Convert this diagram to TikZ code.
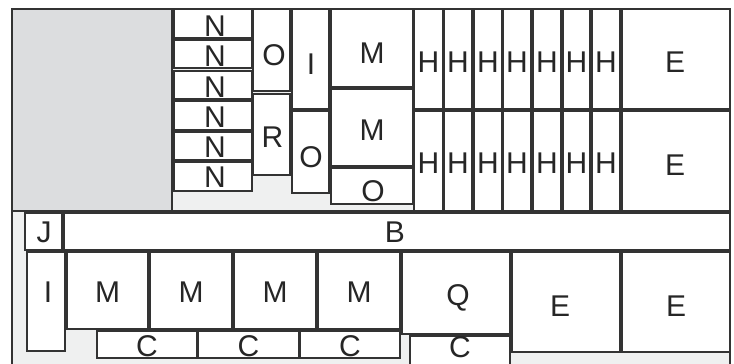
\documentclass[tikz,border=0pt]{standalone}
\usepackage{fontspec}
\setmainfont{Liberation Sans}
\usepackage{tikz}
\usepackage{xcolor}
\definecolor{linegray}{HTML}{333333}
\definecolor{blockgray}{HTML}{DCDDDF}
\definecolor{floorgray}{HTML}{EFF0F0}

\begin{document}
\begin{tikzpicture}[
    x=1pt,y=-1pt,
    room/.style={draw=linegray,line width=1.2pt,fill=white},
    lbl/.style={inner sep=0pt,font=\fontsize{30}{32}\selectfont,text=black!85}
]
\useasboundingbox (0,0) rectangle (734,364);
\clip (0,0) rectangle (734,364);
% frame and grey block
\draw[draw=linegray,line width=1.2pt,fill=floorgray] (12,9) rectangle (730,380);
\draw[draw=linegray,line width=1.2pt,fill=blockgray] (12,9) rectangle (172,211);
\draw[draw=linegray,line width=1.2pt] (12,211) -- (730,211);
% upper rooms
\foreach \ya/\yb/\yl [count=\i] in {9/38/26,40/68/56,71/99/87,101/130/117,132/160/147,162/191/177}
  \draw[room] (174,\ya) rectangle (252,\yb) node[lbl] (n\i) at (215,\yl) {N};
\draw[room] (253,9) rectangle (290,91) node[lbl] (o1) at (274,55) {O};
\draw[room] (253,94) rectangle (290,175) node[lbl] (r1) at (272.5,137) {R};
\draw[room] (292,9) rectangle (329,109) node[lbl] (i1) at (311,64) {I};
\draw[room] (292,111) rectangle (329,193) node[lbl] (o2) at (311,157) {O};
\draw[room] (331,9) rectangle (413,87) node[lbl] (m1) at (372,53) {M};
\draw[room] (331,89) rectangle (413,166) node[lbl] (m2) at (372,130) {M};
\draw[room] (331,168) rectangle (413,204) node[lbl] (o3) at (373,191) {O};
\foreach \xa/\xb [count=\i] in {414/443,444/472,474/502,503/531,533/561,563/590,592/620}{
  \draw[room] (\xa,9) rectangle (\xb,109) node[lbl] (ht\i) at ({(\xa+\xb)/2},62) {H};
  \draw[room] (\xa,111) rectangle (\xb,211) node[lbl] (hb\i) at ({(\xa+\xb)/2},163.5) {H};
}
\draw[room] (622,9) rectangle (730,109) node[lbl] (e1) at (675,62.5) {E};
\draw[room] (622,111) rectangle (730,211) node[lbl] (e2) at (675,165.5) {E};
% lower rooms
\draw[room] (25,213) rectangle (62,250) node[lbl] (j1) at (44,232) {J};
\draw[room] (64,213) rectangle (730,250) node[lbl] (b1) at (395,232) {B};
\draw[room] (27,252) rectangle (65,351) node[lbl] (i2) at (48,292) {I};
\foreach \xa/\xb [count=\i] in {67/148,150/232,234/316,318/400}
  \draw[room] (\xa,252) rectangle (\xb,329) node[lbl] (mb\i) at ({(\xa+\xb)/2},292) {M};
\foreach \xa/\xb [count=\i] in {97/197,198/299,300/400}
  \draw[room] (\xa,331) rectangle (\xb,358) node[lbl] (c\i) at ({(\xa+\xb)/2},346) {C};
\draw[room] (402,252) rectangle (510,334) node[lbl] (q1) at (458,298) {Q};
\draw[room] (410,336) rectangle (510,366) node[lbl] (c4) at (460,347) {C};
\draw[room] (512,252) rectangle (620,352) node[lbl] (e3) at (560,306.5) {E};
\draw[room] (622,252) rectangle (730,352) node[lbl] (e4) at (676,306.5) {E};
\end{tikzpicture}
\end{document}
